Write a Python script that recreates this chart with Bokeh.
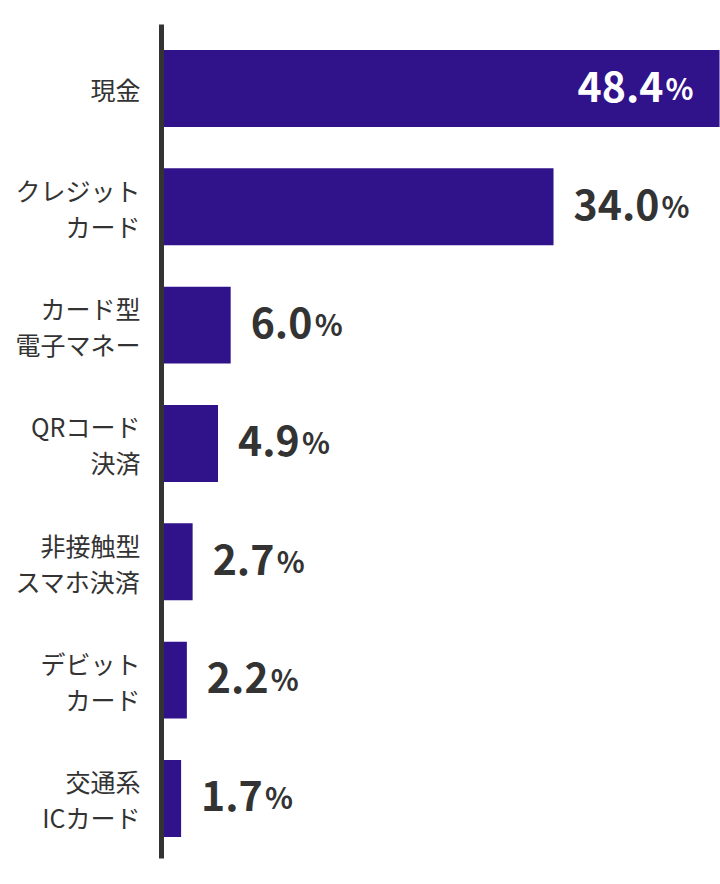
from bokeh.plotting import figure
from bokeh.models import ColumnDataSource, Range1d
from bokeh.embed import file_html
from bokeh.resources import INLINE
from bokeh.core.properties import value

categories = ["現金", "クレジット\nカード", "カード型\n電子マネー", "QRコード\n決済",
              "非接触型\nスマホ決済", "デビット\nカード", "交通系\nICカード"]
values = [48.4, 34.0, 6.0, 4.9, 2.7, 2.2, 1.7]

BAR = "#30128a"
TXT = "#333333"
FONT = "Noto Sans CJK JP"

n = len(categories)
ys = list(range(n))
W, H = 720, 884
px_per = 11.53
x0_px = 161
cy0, dy = 88, 118.33

p = figure(width=W, height=H, output_backend="svg", toolbar_location=None,
           x_range=Range1d(-x0_px / px_per, (W - x0_px) / px_per),
           y_range=Range1d((H - cy0) / dy, -cy0 / dy),
           min_border=0, outline_line_color=None)
p.axis.visible = False
p.grid.visible = False
p.background_fill_color = "white"
p.border_fill_color = "white"

src = ColumnDataSource(dict(y=ys, v=values))
p.hbar(y="y", left=0, right="v", height=0.65, source=src, fill_color=BAR, line_color=None)

# axis line
p.segment(x0=[0], x1=[0], y0=[(24 - cy0) / dy], y1=[(858 - cy0) / dy],
          line_color=TXT, line_width=5)

# category labels
l1, l2, ly1, ly2 = [], [], [], []
single, single_y = [], []
for i, c in enumerate(categories):
    parts = c.split("\n")
    if len(parts) == 1:
        single.append(parts[0]); single_y.append(i)
    else:
        l1.append(parts[0]); l2.append(parts[1]); ly1.append(i); ly2.append(i)
p.text(x=0, y=single_y, text=single, x_offset=-21, y_offset=0, text_align="right",
       text_baseline="middle", text_font=value(FONT), text_font_size="25px", text_color=TXT)
p.text(x=0, y=ly1, text=l1, x_offset=-21, y_offset=-17, text_align="right",
       text_baseline="middle", text_font=value(FONT), text_font_size="25px", text_color=TXT)
p.text(x=0, y=ly2, text=l2, x_offset=-21, y_offset=19, text_align="right",
       text_baseline="middle", text_font=value(FONT), text_font_size="25px", text_color=TXT)

# value labels
nums = [f"{v:.1f}" for v in values]
numw = [24 * (len(s) - 1) + 13 for s in nums]
inside = [v > 40 for v in values]
num_off, pct_off, col = [], [], []
for s, w, ins in zip(nums, numw, inside):
    if ins:
        po = -24 - 30
        num_off.append(po - 3 - w); pct_off.append(po); col.append("white")
    else:
        num_off.append(20); pct_off.append(20 + w + 3); col.append(TXT)
vs = ColumnDataSource(dict(x=values, y=ys, t=nums, p=["%"] * n,
                           no=num_off, po=pct_off, c=col))
p.text(x="x", y="y", text="t", x_offset="no", y_offset=-2, source=vs,
       text_align="left", text_baseline="alphabetic", text_font=value(FONT),
       text_font_style="bold", text_font_size="41px", text_color="c")
p.text(x="x", y="y", text="p", x_offset="po", y_offset=-2, source=vs,
       text_align="left", text_baseline="alphabetic", text_font=value(FONT),
       text_font_style="bold", text_font_size="29px", text_color="c")

open("out.html", "w").write(file_html(p, INLINE))
